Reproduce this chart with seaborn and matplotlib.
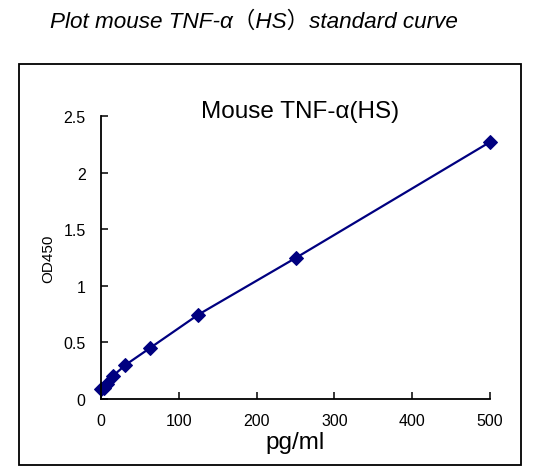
import matplotlib
matplotlib.use("Agg")
import matplotlib.pyplot as plt
import seaborn as sns
import pandas as pd
from matplotlib.patches import Rectangle

conc = [0, 3.9, 7.8, 15.6, 31.25, 62.5, 125, 250, 500]
od450 = [0.085, 0.10, 0.13, 0.205, 0.30, 0.448, 0.745, 1.245, 2.27]
xticks = [0, 100, 200, 300, 400, 500]
yticks = [0, 0.5, 1, 1.5, 2, 2.5]
ytick_labels = ["0", "0.5", "1", "1.5", "2", "2.5"]

sns.set_theme(style="white")
plt.rcParams['font.family'] = ['Liberation Sans', 'Noto Sans CJK SC', 'DejaVu Sans']
plt.rcParams['text.color'] = 'black'
plt.rcParams['axes.labelcolor'] = 'black'

df = pd.DataFrame({"conc": conc, "od": od450})

fig = plt.figure(figsize=(5.44, 4.77), dpi=100)
W, H = 544, 477
ax = fig.add_axes([101 / W, 1 - 400 / H, (490 - 101) / W, (400 - 117) / H])

sns.lineplot(data=df, x="conc", y="od", ax=ax, color="#000080", linewidth=1.6,
             marker="D", markersize=7.5, markeredgecolor="#000080", markerfacecolor="#000080",
             clip_on=False)

ax.set_xlim(0, 500)
ax.set_ylim(0, 2.5)
ax.set_xticks(xticks)
ax.set_xticklabels([str(t) for t in xticks])
ax.set_yticks(yticks)
ax.set_yticklabels(ytick_labels)
for s in ["top", "right"]:
    ax.spines[s].set_visible(False)
for s in ["left", "bottom"]:
    ax.spines[s].set_color("black")
    ax.spines[s].set_linewidth(1.3)
ax.tick_params(axis="both", direction="in", length=5, width=1.1, colors="black",
               labelsize=11.5, left=True, bottom=True)
ax.tick_params(axis="x", pad=10)
ax.tick_params(axis="y", pad=11)
ax.set_xlabel("pg/ml", fontsize=17.5, labelpad=2)
ax.set_ylabel("OD450", fontsize=11, labelpad=6)
ax.patch.set_alpha(0)

fig.text(300 / W, 1 - 112 / H, "Mouse TNF-α(HS)", ha="center", va="center", fontsize=17.5)

fig.text(50 / W, 1 - 22 / H, "Plot mouse TNF-α（HS）standard curve", ha="left", va="center",
         fontsize=16.2, style="italic")

rect = Rectangle((19 / W, 1 - 466 / H), (521 - 19) / W, (466 - 65) / H,
                 transform=fig.transFigure, fill=False, edgecolor="black", linewidth=1.3)
fig.patches.append(rect)

fig.savefig("out.png", dpi=100, facecolor="white")
